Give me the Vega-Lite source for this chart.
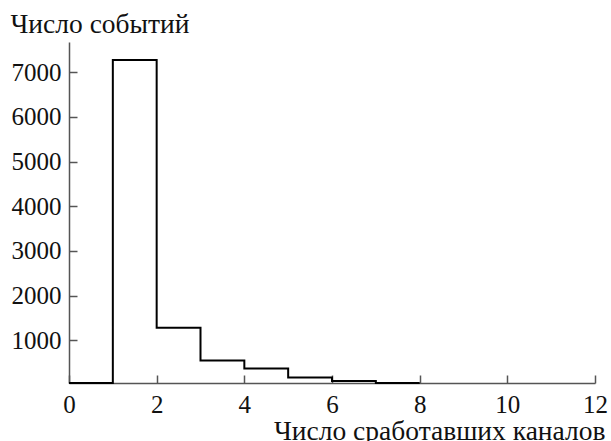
{
  "$schema": "https://vega.github.io/schema/vega-lite/v6.json",
  "width": 526,
  "height": 341,
  "autosize": "none",
  "padding": {"left": 69, "top": 42, "right": 16, "bottom": 58},
  "background": "white",
  "config": {
    "view": {"stroke": null},
    "font": "Liberation Serif",
    "axis": {"grid": false, "domainColor": "#555555", "domainWidth": 1.5, "ticks": true, "tickColor": "#555555", "tickWidth": 1.5, "tickSize": -8, "labelColor": "#111111", "titleColor": "#111111", "labelFont": "Liberation Serif", "titleFont": "Liberation Serif", "labelFontSize": 25, "titleFontSize": 27.5, "titleFontWeight": "normal"}
  },
  "data": {
    "values": [
      {"channels": 0, "events": 40},
      {"channels": 1, "events": 7276},
      {"channels": 2, "events": 1276},
      {"channels": 3, "events": 545},
      {"channels": 4, "events": 366},
      {"channels": 5, "events": 164},
      {"channels": 6, "events": 85},
      {"channels": 7, "events": 40},
      {"channels": 8, "events": 40}
    ]
  },
  "mark": {"type": "line", "interpolate": "step-after", "color": "black", "strokeWidth": 2},
  "encoding": {
    "x": {
      "field": "channels", "type": "quantitative",
      "scale": {"domain": [0, 12], "nice": false, "zero": false},
      "axis": {
        "values": [0, 2, 4, 6, 8, 10, 12], "tickSize": -8, "labelPadding": 17, "format": "d",
        "labelFlush": false,
        "title": "Число сработавших каналов", "titleAnchor": "end", "titleAlign": "right",
        "titleX": 536, "titleY": 56, "titleBaseline": "alphabetic"
      }
    },
    "y": {
      "field": "events", "type": "quantitative",
      "scale": {"domain": [40, 7680], "nice": false, "zero": false},
      "axis": {
        "values": [1000, 2000, 3000, 4000, 5000, 6000, 7000], "tickSize": -8, "labelPadding": 16, "format": "d",
        "labelFlush": false,
        "title": "Число событий", "titleAngle": 0, "titleAlign": "left", "titleBaseline": "alphabetic",
        "titleX": -59, "titleY": -10
      }
    }
  }
}
